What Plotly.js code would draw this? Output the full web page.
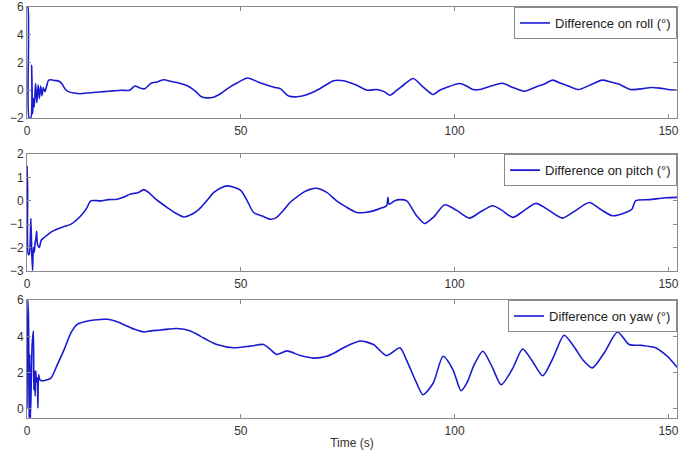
<!DOCTYPE html>
<html>
<head>
<meta charset="utf-8">
<script src="https://cdn.plot.ly/plotly-3.0.1.min.js"></script>
<style>html,body{margin:0;padding:0;background:#fff;}#chart{width:692px;height:451px;}</style>
</head>
<body>
<div id="chart"></div>
<script>
// Roll
var tRoll = [0,0.2,0.35,0.5,0.9,1.1,1.3,1.5,1.7,2.0,2.3,2.6,2.9,3.2,3.5,3.8,4.2,4.6,5.0,5.5,6.5,7.5,8.2,9.0,9.7,11,12.5,14,16,18,20,22,24,25.2,26.5,27.5,29,30.5,32,33.5,35,37.6,39.5,40.7,42,43.8,45.5,46.9,49,51.6,54,56.2,58,59.3,61.2,64,66,67.8,70,71.7,74,77.1,79.5,81.8,83.5,84.9,86.5,88,90.3,92.6,95,96.5,98.1,101.2,102.8,104.3,105.8,108.5,111.2,113.6,116.3,119,121,122.9,124.8,126.7,129,131.5,134.5,136.5,138.4,141.1,143.5,146.1,148,150,152];
var roll = [6,6,3.5,-2,-2,1.8,-1.7,-0.6,-1.2,0.5,-0.9,0.4,-0.6,0.3,-0.4,0.2,-0.1,0.3,0.7,0.75,0.7,0.65,0.45,0.05,-0.1,-0.2,-0.25,-0.2,-0.15,-0.1,-0.05,0.0,0.0,0.3,0.15,0.1,0.5,0.6,0.75,0.65,0.55,0.3,-0.1,-0.45,-0.55,-0.48,-0.2,0.12,0.5,0.88,0.6,0.36,0.2,0.1,-0.42,-0.44,-0.25,0.0,0.4,0.68,0.68,0.36,0.0,0.05,-0.1,-0.36,0.0,0.36,0.85,0.24,-0.31,0.0,0.2,0.48,0.3,0.05,0.05,0.3,0.5,0.2,-0.07,0.24,0.45,0.73,0.5,0.29,0.05,0.35,0.73,0.6,0.44,0.05,0.1,0.2,0.15,0.05,0.0];

// Pitch
var tPitch = [0,0.15,0.3,0.5,0.7,0.9,1.1,1.3,1.5,1.7,1.9,2.1,2.25,2.45,2.9,3.3,4.5,6,7.9,10.3,12.6,14.0,14.9,17.2,19,21.1,22.5,24.2,26,27.3,28.5,29.7,31,32.8,34.5,36.7,38.3,39.8,40.6,42,43.7,45.3,46.8,49.9,51.5,53,55,56.9,58.3,60,61.5,63,64.6,66,67.8,70.1,72.4,74.5,77.1,79,81,83,84.1,84.4,84.7,86,87.2,88.8,91.1,93,95,97.7,100.4,103.5,105.8,108.9,111,113.6,116,119,122,125.2,128,131.5,134,136.9,140,141.5,142.3,145.5,149.3,152];
var pitch = [1.5,0.5,-2.3,-2.3,-2.0,-0.75,-2.1,-3.0,-2.0,-2.2,-1.8,-1.6,-1.3,-1.85,-2.0,-1.7,-1.5,-1.3,-1.15,-1.0,-0.64,-0.3,0.0,0.0,0.05,0.07,0.15,0.29,0.35,0.48,0.35,0.14,-0.05,-0.29,-0.5,-0.69,-0.6,-0.43,-0.29,0.0,0.36,0.55,0.64,0.46,0.0,-0.5,-0.65,-0.79,-0.72,-0.4,-0.07,0.15,0.36,0.48,0.54,0.36,0.0,-0.25,-0.5,-0.5,-0.43,-0.3,-0.21,0.15,-0.15,0.0,0.05,0.0,-0.64,-0.97,-0.71,-0.17,-0.4,-0.74,-0.5,-0.21,-0.4,-0.71,-0.45,-0.11,-0.4,-0.74,-0.45,-0.07,-0.35,-0.64,-0.5,-0.35,0.0,0.05,0.13,0.15];

// Yaw
var tYaw = [0,0.2,0.35,0.5,0.65,0.8,1.0,1.2,1.5,1.6,1.75,1.9,2.05,2.2,2.4,2.55,2.7,3.0,3.6,4.5,5.6,7.1,8.7,10.3,11.8,13.4,15.7,18.8,21.1,23,25,27.3,29,31.2,33,35.1,38.2,40.6,42.5,44.4,48.3,52.2,55.3,56.9,58.4,60.8,63.9,67,70.1,72,74,77.9,81,84.1,87.2,88.7,91.1,92.6,95,97.3,99.6,101.5,103,104.5,106.6,108.8,110.9,113.5,115.9,118,120.6,123,125.6,128,130,132.2,135,138.1,140.8,143.9,147,149,150.1,152];
var yaw = [0,6,5,-0.5,3,-0.5,1.5,3.5,4.3,1.05,2.1,0.7,2.1,1.5,1.7,0.05,1.9,1.6,1.55,1.6,1.7,2.44,3.28,4.2,4.67,4.8,4.9,4.94,4.8,4.6,4.4,4.24,4.3,4.35,4.4,4.43,4.3,4.0,3.75,3.55,3.37,3.46,3.55,3.28,3.0,3.2,2.94,2.8,2.9,3.1,3.37,3.74,3.55,2.94,3.37,2.72,1.43,0.78,1.43,2.9,2.17,1.0,1.5,2.4,3.18,2.3,1.33,2.2,3.3,2.7,1.83,2.8,4.06,3.4,2.7,2.26,3.1,4.24,3.55,3.5,3.37,3.05,2.82,2.3];

var names = ['Difference on roll (°)','Difference on pitch (°)','Difference on yaw (°)'];
var xTicks = [0,50,100,150];

var lineColor = '#1a1ad2';
var axColor = '#8a8a8a';
var fnt = {family:'Liberation Sans, Arial, sans-serif', size:12, color:'#333'};

function tr(x,y,name,xa,ya,lg){
  return {x:x,y:y,name:name,type:'scatter',mode:'lines',xaxis:xa,yaxis:ya,legend:lg,
          line:{color:lineColor,width:1.6,shape:'spline',smoothing:0.7},showlegend:true};
}
var data = [
  tr(tRoll,roll,names[0],'x','y','legend'),
  tr(tPitch,pitch,names[1],'x2','y2','legend2'),
  tr(tYaw,yaw,names[2],'x3','y3','legend3')
];

function xax(anchor, title){
  var a = {anchor:anchor, range:[0,152], tickvals:xTicks, ticks:'inside', ticklen:4, tickcolor:axColor,
    showline:true, linecolor:axColor, linewidth:1, mirror:'ticks', showgrid:false, zeroline:false,
    tickfont:fnt, ticklabelstandoff:2};
  if(title){ a.title = {text:title, font:fnt, standoff:1}; }
  return a;
}
function yax(anchor, dom, range, dtick){
  return {anchor:anchor, domain:dom, range:range, dtick:dtick, tick0:0, ticks:'inside', ticklen:4, tickcolor:axColor,
    showline:true, linecolor:axColor, linewidth:1, mirror:'ticks', showgrid:false, zeroline:false,
    tickfont:fnt};
}
function lg(ytop){
  return {x:1, xanchor:'right', y:ytop, yanchor:'top', bgcolor:'#fff', bordercolor:axColor, borderwidth:1,
    font:{family:'Liberation Sans, Arial, sans-serif', size:13, color:'#222'}, tracegroupgap:0};
}

var layout = {
  width:692, height:451,
  margin:{l:27, r:15, t:7, b:33},
  paper_bgcolor:'#fff', plot_bgcolor:'#fff',
  xaxis: xax('y'),
  xaxis2: xax('y2'),
  xaxis3: xax('y3','Time (s)'),
  yaxis: yax('x',[0.73,1],[-2,6],2),
  yaxis2: yax('x2',[0.358,0.642],[-3,2],1),
  yaxis3: yax('x3',[0,0.287],[-0.5,6],2),
  legend: lg(1),
  legend2: lg(0.642),
  legend3: lg(0.287)
};

Plotly.newPlot('chart', data, layout, {displayModeBar:false, staticPlot:true});
</script>
</body>
</html>
